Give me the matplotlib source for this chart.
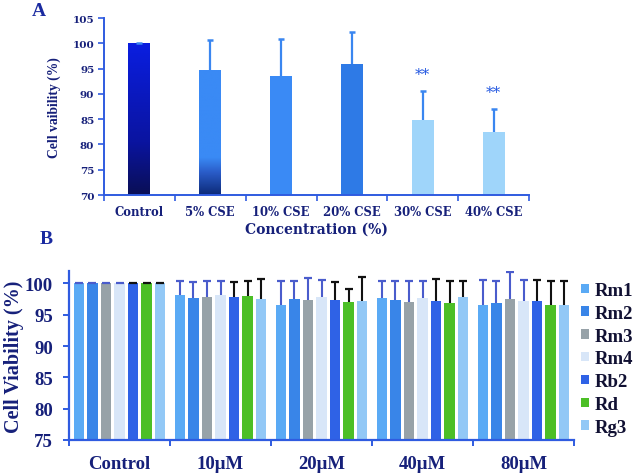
import numpy as np
import matplotlib
matplotlib.use("Agg")
import matplotlib.pyplot as plt
from matplotlib.colors import LinearSegmentedColormap

# ---------------- data ----------------
a_categories = ["Control", "5% CSE", "10% CSE", "20% CSE", "30% CSE", "40% CSE"]
a_values = [100.0, 94.7, 93.5, 96.0, 84.8, 82.5]
a_errors = [0.1, 5.95, 7.3, 6.3, 5.8, 4.5]
a_signif = ["", "", "", "", "**", "**"]

b_groups = ["Control", "10\u03bcM", "20\u03bcM", "40\u03bcM", "80\u03bcM"]
b_series = ["Rm1", "Rm2", "Rm3", "Rm4", "Rb2", "Rd", "Rg3"]
b_values = {
    "Rm1": [100.0, 98.1, 96.6, 97.6, 96.6],
    "Rm2": [100.0, 97.6, 97.45, 97.35, 96.8],
    "Rm3": [100.0, 97.8, 97.3, 97.0, 97.45],
    "Rm4": [100.0, 98.1, 97.8, 97.6, 97.2],
    "Rb2": [100.0, 97.8, 97.3, 97.2, 97.2],
    "Rd":  [100.0, 97.9, 96.95, 96.8, 96.6],
    "Rg3": [100.0, 97.45, 97.2, 97.8, 96.6],
}
b_errors = {
    "Rm1": [0.1, 2.25, 3.75, 2.75, 4.0],
    "Rm2": [0.1, 2.6, 2.85, 3.0, 3.55],
    "Rm3": [0.1, 2.6, 3.6, 3.35, 4.4],
    "Rm4": [0.1, 2.3, 2.8, 2.7, 3.35],
    "Rb2": [0.1, 2.4, 2.95, 3.5, 3.35],
    "Rd":  [0.1, 2.45, 2.15, 3.55, 3.75],
    "Rg3": [0.1, 3.3, 3.75, 2.55, 3.8],
}

# ---------------- styles ----------------
navy = "#16207a"
spine_blue = "#2f5be0"
a_colors = ["#0a1ee0", "#3a8af5", "#3a8af5", "#2e7ae6", "#9fd5fa", "#9fd5fa"]
a_grad_bottom = ["#0a0f55", "#0c2a78", None, None, None, None]
b_colors = {"Rm1": "#5aaaf5", "Rm2": "#3985e8", "Rm3": "#97a2a8", "Rm4": "#d8e6f8",
            "Rb2": "#2f62e6", "Rd": "#4cbf26", "Rg3": "#92c8f6"}
b_errcolors = {"Rm1": "#4a5ccc", "Rm2": "#4a5ccc", "Rm3": "#4a5ccc", "Rm4": "#4a5ccc",
               "Rb2": "#111111", "Rd": "#111111", "Rg3": "#111111"}

serif = ["Liberation Serif", "DejaVu Serif"]
wide = ["DejaVu Serif", "Liberation Serif"]
plt.rcParams["font.family"] = serif
plt.rcParams["font.weight"] = "bold"

fig = plt.figure(figsize=(6.38, 4.77), dpi=100)

# ---------------- panel A ----------------
axA = fig.add_axes([104 / 638, 1 - 196 / 477, 425 / 638, 177 / 477])
xa = np.arange(len(a_categories))
bw = 0.31
a_vals = np.array(a_values)
a_errs = np.array(a_errors)
bars = axA.bar(xa, a_vals, width=bw, color=a_colors, zorder=2)
axA.errorbar(xa, a_vals, yerr=[np.zeros(len(a_errs)), a_errs], fmt="none",
             ecolor="#3a86f0", elinewidth=1.6, capsize=0, zorder=3)
axA.plot(xa, a_vals + a_errs, ls="none", marker="_", ms=4.5, mew=1.8, color="#3a86f0", zorder=3)

# gradients for first two bars
for i, (bar, top, bot) in enumerate(zip(bars, a_colors, a_grad_bottom)):
    if bot is None:
        continue
    if i == 0:
        cmap = LinearSegmentedColormap.from_list("g", [(0, bot), (0.35, "#0a14a0"), (1, top)])
    else:
        cmap = LinearSegmentedColormap.from_list("g", [(0, bot), (0.18, "#2a5cc8"), (0.3, top), (1, top)])
    x0 = bar.get_x()
    grad = np.linspace(0, 1, 256).reshape(-1, 1)
    im = axA.imshow(grad, cmap=cmap, origin="lower", aspect="auto",
                    extent=[x0, x0 + bar.get_width(), 70, bar.get_height()], zorder=2.5)
    im.set_clip_path(bar)
axA.set_xlim(-0.5, len(a_categories) - 0.5)
axA.set_ylim(70, 105)

for x, v, e, s in zip(xa, a_vals, a_errs, a_signif):
    if s:
        axA.text(x, v + e + 1.9, s, ha="center", va="bottom", color="#2055e0",
                 fontsize=11, fontweight="normal", family=wide)

axA.set_yticks(np.arange(70, 106, 5))
axA.set_xticks(xa)
axA.set_xticklabels(a_categories)
axA.set_xticks(np.arange(-0.5, len(a_categories)), minor=True)
axA.tick_params(axis="x", which="major", length=0, pad=7, labelsize=8.4, labelcolor=navy)
axA.tick_params(axis="x", which="minor", length=4, width=1.2, color=spine_blue)
axA.tick_params(axis="y", length=4, width=1.2, color=spine_blue, labelsize=7.5, labelcolor=navy, pad=3)
for lab in axA.get_xticklabels() + axA.get_yticklabels():
    lab.set_fontweight("bold")
    lab.set_family(wide)
for sp in ["top", "right"]:
    axA.spines[sp].set_visible(False)
for sp in ["left", "bottom"]:
    axA.spines[sp].set_color(spine_blue)
    axA.spines[sp].set_linewidth(1.4)
axA.set_ylabel("Cell vaibility (%)", color=navy, fontsize=9.8, fontweight="bold", labelpad=8)
axA.set_xlabel("Concentration (%)", color=navy, fontsize=10, fontweight="bold",
               labelpad=3, family=wide)
fig.text(32 / 638, 1 - 11 / 477, "A", color="#1a2aa0", fontsize=14, fontweight="bold", va="center")

# ---------------- panel B ----------------
axB = fig.add_axes([69 / 638, 1 - 441 / 477, 505 / 638, (441 - 271.8) / 477])
xb = np.arange(len(b_groups))
step = 0.134
bwb = 0.106
n = len(b_series)
for j, s in enumerate(b_series):
    pos = xb + (j - (n - 1) / 2) * step
    vals = np.array(b_values[s])
    errs = np.array(b_errors[s])
    axB.bar(pos, vals, width=bwb, color=b_colors[s], label=s, zorder=2)
    axB.errorbar(pos, vals, yerr=[np.zeros(len(b_groups)), errs], fmt="none",
                 ecolor=b_errcolors[s], elinewidth=1.5, capsize=0, zorder=3)
    axB.plot(pos, vals + errs, ls="none", marker="_", ms=6, mew=1.6,
             color=b_errcolors[s], zorder=3)
axB.set_ylim(75, 102)
axB.set_xlim(-0.5, len(b_groups) - 0.5)
axB.set_yticks(np.arange(75, 101, 5))
axB.set_xticks(xb)
axB.set_xticklabels(b_groups)
axB.set_xticks(np.arange(-0.5, len(b_groups)), minor=True)
axB.tick_params(axis="x", which="major", length=0, pad=11, labelsize=13.5, labelcolor=navy)
axB.tick_params(axis="x", which="minor", length=4, width=1.4, color=spine_blue)
axB.tick_params(axis="y", length=4, width=1.4, color=spine_blue, labelsize=13.5, labelcolor=navy, pad=7.5)
for lab in axB.get_xticklabels() + axB.get_yticklabels():
    lab.set_fontweight("bold")
for sp in ["top", "right"]:
    axB.spines[sp].set_visible(False)
for sp in ["left", "bottom"]:
    axB.spines[sp].set_color(spine_blue)
    axB.spines[sp].set_linewidth(1.6)
axB.set_ylabel("Cell Viability (%)", color=navy, fontsize=14.5, fontweight="bold", labelpad=1)
fig.text(40 / 638, 1 - 240 / 477, "B", color="#1a2aa0", fontsize=14, fontweight="bold", va="center")

leg = fig.legend(*axB.get_legend_handles_labels(), loc="upper left",
                 bbox_to_anchor=(581 / 638, 1 - 283 / 477), bbox_transform=fig.transFigure,
                 frameon=False, handlelength=0.4, handleheight=0.4, handletextpad=0.35,
                 labelspacing=0.31, borderpad=0, borderaxespad=0,
                 prop={"family": serif, "weight": "bold", "size": 13.5})
for t in leg.get_texts():
    t.set_color("#111133")

fig.savefig("out.png", dpi=100)
